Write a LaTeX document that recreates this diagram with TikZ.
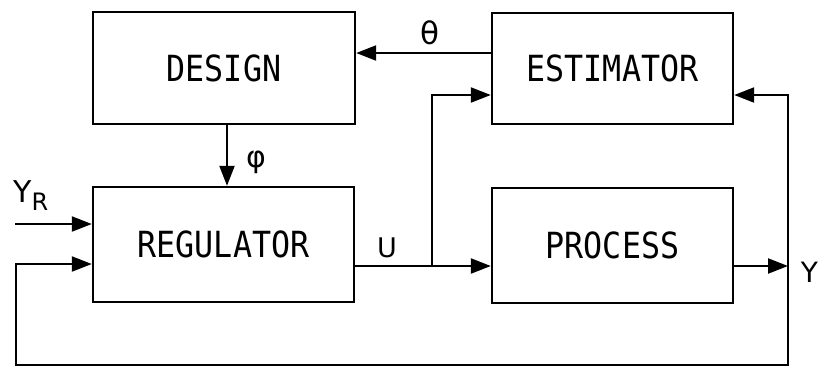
\documentclass[tikz,border=0pt]{standalone}
\usepackage{fontspec}
\setmonofont[FakeStretch=0.88]{DejaVu Sans Mono}
\newfontfamily\lblfont{DejaVu Sans}
\usetikzlibrary{arrows.meta,calc}
\tikzset{
  blk/.style={draw, line width=2.4pt, rectangle, inner sep=0pt,
    font=\fontsize{36}{40}\selectfont\ttfamily},
  conn/.style={line width=2.2pt},
  arr/.style={line width=2.2pt, -{Triangle[length=20pt,width=15pt]}},
  lbl/.style={inner sep=0pt, font=\lblfont}
}
\begin{document}
\begin{tikzpicture}[x=1pt,y=-1pt]
\useasboundingbox (0,0) rectangle (819,368);
\fill[white] (0,0) rectangle (819,368);
% blocks
\node[blk, minimum width=262pt, minimum height=112pt] (design) at (224,68) {DESIGN};
\node[blk, minimum width=241pt, minimum height=111pt] (est) at (612.5,68.5) {ESTIMATOR};
\node[blk, minimum width=261pt, minimum height=115pt] (reg) at (223.5,244.5) {REGULATOR};
\node[blk, minimum width=241pt, minimum height=115pt] (proc) at (612.5,245.5) {PROCESS};
% helper coordinates
\coordinate (th) at (0,53);
\coordinate (phx) at (227,0);
\coordinate (yr) at (15,224);
\coordinate (br) at (432,266);
\coordinate (e2) at (0,95);
\coordinate (yo) at (788,266);
\coordinate (fr) at (788,365);
\coordinate (fl) at (16,365);
\coordinate (fb) at (0,264);
% connectors
\draw[arr] (est.west |- th) -- (design.east |- th);
\draw[arr] (design.south -| phx) -- (reg.north -| phx);
\draw[arr] (yr) -- (reg.west |- yr);
\draw[conn] (reg.east |- br) -- (br);
\draw[arr] (br) -- (proc.west |- br);
\draw[arr] (br) |- (est.west |- e2);
\draw[arr] (proc.east |- yo) -- (yo);
\draw[arr] (yo) |- (est.east |- e2);
\draw[arr] (yo) -- (fr) -- (fl) |- (reg.west |- fb);
% labels
\node[lbl, font=\fontsize{31}{33}\selectfont\lblfont] (thl) at (430,33) {θ};
\node[lbl, font=\fontsize{30}{32}\selectfont\lblfont] (phl) at (256,162) {φ};
\node[lbl, font=\fontsize{27}{30}\selectfont\lblfont] (ul) at (387,248) {U};
\node[lbl, font=\fontsize{28}{30}\selectfont\lblfont] (yl) at (809.5,272) {Y};
\node[lbl, font=\fontsize{30}{32}\selectfont\lblfont, anchor=west] (yrl) at (13,196) {Y\raisebox{-8pt}{\fontsize{24}{26}\selectfont R}};
\end{tikzpicture}
\end{document}
